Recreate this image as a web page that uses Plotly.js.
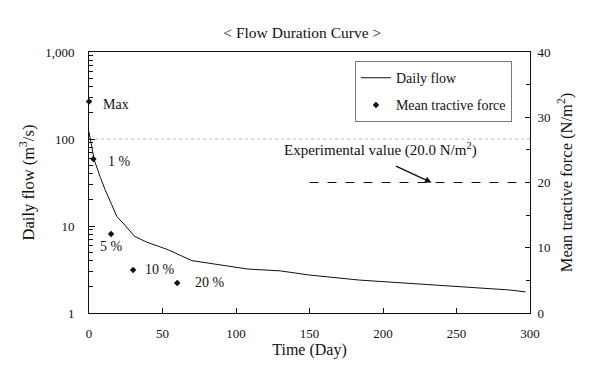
<!DOCTYPE html>
<html>
<head>
<meta charset="utf-8">
<script src="https://cdn.plot.ly/plotly-3.0.1.min.js"></script>
<style>html,body{margin:0;padding:0;background:#fff;}#chart{width:595px;height:365px;}</style>
</head>
<body>
<div id="chart"></div>
<script>
// Daily flow duration curve (left axis, log)
const flowDays = [0, 1, 3.5, 7.5, 11, 15.5, 19, 24.5, 31, 39.5, 53, 70, 90, 108, 130, 150, 184, 218, 252, 286, 297];
const flowValues = [120, 97, 58, 37, 26, 17.5, 12.8, 10.2, 7.6, 6.5, 5.4, 4.0, 3.55, 3.2, 3.05, 2.73, 2.39, 2.19, 2.04, 1.84, 1.75];

// Mean tractive force points (right axis)
const forceLabels = ["Max", "1 %", "5 %", "10 %", "20 %"];
const forceDays = [0, 3, 15, 30, 60];
const forceValues = [32.4, 23.6, 12.1, 6.6, 4.6];

// Experimental value line
const expDays = [150, 300];
const expValue = 20.0;

// Axis ticks
const leftTickVals = [1, 10, 100, 1000];
const leftTickText = ["1", "10", "100", "1,000"];
const leftMinorVals = [2, 3, 4, 5, 6, 7, 8, 9, 20, 30, 40, 50, 60, 70, 80, 90, 200, 300, 400, 500, 600, 700, 800, 900];
const rightTickVals = [0, 10, 20, 30, 40];
const xTickVals = [0, 50, 100, 150, 200, 250, 300];

const serif = "Liberation Serif, Times New Roman, serif";

// label offsets (in data units relative to each point)
const labelDx = [8.2, 8.6, -8.9, 6.7, 10.7];
const labelDy = [-0.5, -0.4, -1.9, 0.0, 0.0];

const traces = [
  {
    x: flowDays, y: flowValues, type: 'scatter', mode: 'lines',
    name: 'Daily flow', yaxis: 'y', legendgroup: 'a',
    line: {color: '#111', width: 1}
  },
  {
    x: forceDays, y: forceValues, type: 'scatter', mode: 'markers',
    name: 'Mean tractive force', yaxis: 'y2', legendgroup: 'b',
    cliponaxis: false,
    marker: {color: '#111', size: 5, symbol: 'diamond'}
  },
  {
    x: expDays, y: expDays.map(() => expValue), type: 'scatter', mode: 'lines',
    yaxis: 'y2', showlegend: false,
    line: {color: '#111', width: 1.2, dash: 'dash'}
  }
];

const annotations = forceLabels.map((t, i) => ({
  x: forceDays[i] + labelDx[i], y: forceValues[i] + labelDy[i],
  xref: 'x', yref: 'y2', text: t, showarrow: false,
  xanchor: 'left', yanchor: 'middle',
  font: {family: serif, size: 14, color: '#111'}
}));

annotations.push({
  x: 198, y: 25.0, xref: 'x', yref: 'y2',
  text: 'Experimental value (20.0 N/m<sup>2</sup>)', showarrow: false,
  xanchor: 'center', yanchor: 'middle',
  font: {family: serif, size: 15, color: '#111'}
});
annotations.push({
  x: 233, y: expValue, xref: 'x', yref: 'y2',
  text: '', showarrow: true, arrowhead: 2, arrowsize: 1, arrowwidth: 1.3,
  arrowcolor: '#111', ax: -37, ay: -17, standoff: 0
});

const layout = {
  width: 595, height: 365,
  margin: {l: 89, r: 65, t: 52, b: 52},
  paper_bgcolor: '#fff', plot_bgcolor: '#fff',
  font: {family: serif, color: '#111', size: 13},
  title: {
    text: '&lt; Flow Duration Curve &gt;',
    x: 0.508, xref: 'container', xanchor: 'center',
    y: 0.91, yref: 'container', yanchor: 'middle',
    font: {family: serif, size: 15.5, color: '#111'}
  },
  xaxis: {
    range: [0, 300], tickvals: xTickVals,
    ticks: 'inside', ticklen: 5, tickcolor: '#111',
    showline: true, linecolor: '#111', linewidth: 1, mirror: true,
    showgrid: false, zeroline: false,
    ticklabelstandoff: 8,
    tickfont: {family: serif, size: 13},
    title: {text: 'Time (Day)', font: {family: serif, size: 16}, standoff: 4}
  },
  yaxis: {
    type: 'log', range: [0, 3],
    tickvals: leftTickVals, ticktext: leftTickText,
    ticks: 'inside', ticklen: 6, tickcolor: '#111',
    minor: {tickvals: leftMinorVals, ticks: 'inside', ticklen: 4, tickcolor: '#111', showgrid: false},
    showline: true, linecolor: '#111', linewidth: 1,
    showgrid: false, zeroline: false,
    ticklabelstandoff: 11,
    tickfont: {family: serif, size: 13},
    title: {text: 'Daily flow (m<sup>3</sup>/s)', font: {family: serif, size: 16.5}, standoff: 6}
  },
  yaxis2: {
    overlaying: 'y', side: 'right',
    range: [0, 40], tickvals: rightTickVals,
    ticks: 'inside', ticklen: 5, tickcolor: '#111',
    minor: {dtick: 5, ticks: 'inside', ticklen: 4, tickcolor: '#111', showgrid: false},
    showline: true, linecolor: '#111', linewidth: 1,
    showgrid: false, zeroline: false,
    ticklabelstandoff: 4,
    tickfont: {family: serif, size: 13},
    title: {text: 'Mean tractive force (N/m<sup>2</sup>)', font: {family: serif, size: 16.5}, standoff: 10}
  },
  shapes: [
    {type: 'line', xref: 'paper', x0: 0, x1: 1, yref: 'y', y0: 100, y1: 100,
     line: {color: '#bbb', width: 1, dash: 'dot'}, layer: 'below'}
  ],
  legend: {
    x: 0.603, y: 0.965, xanchor: 'left', yanchor: 'top',
    bgcolor: '#fff', bordercolor: '#777', borderwidth: 1,
    font: {family: serif, size: 14, color: '#111'},
    traceorder: 'grouped', tracegroupgap: 6
  },
  annotations: annotations,
  showlegend: true
};

Plotly.newPlot('chart', traces, layout, {displayModeBar: false, staticPlot: true});
</script>
</body>
</html>
